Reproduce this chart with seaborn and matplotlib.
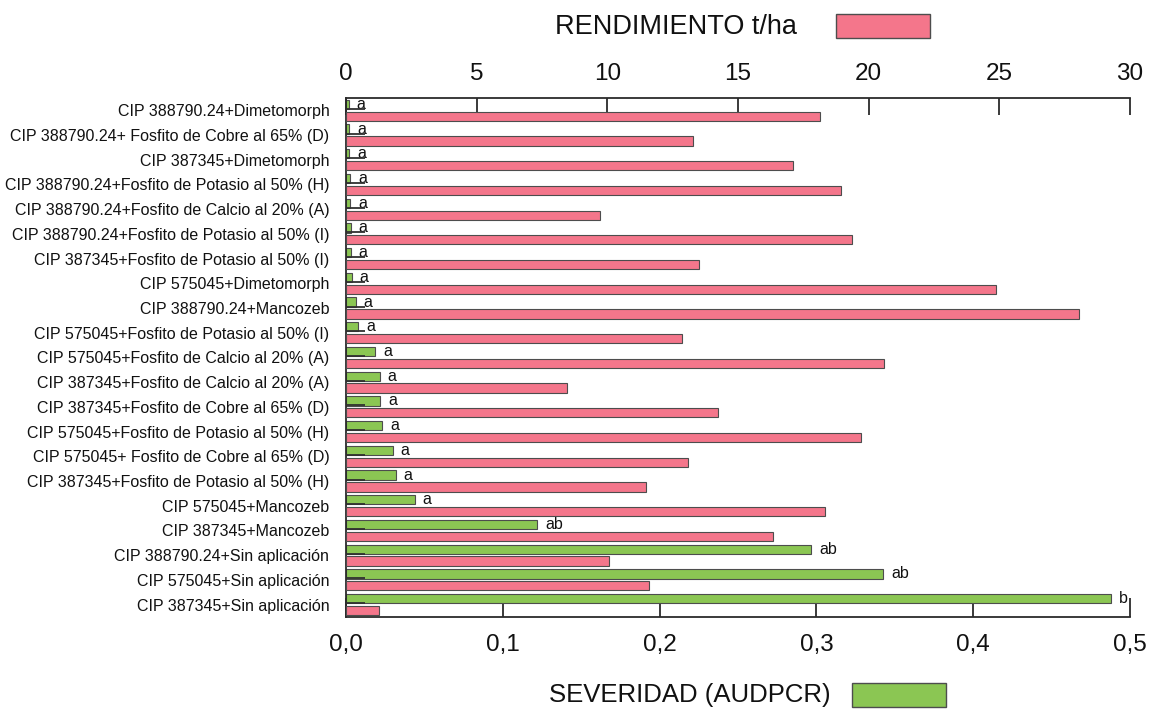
import numpy as np
import pandas as pd
import matplotlib
matplotlib.use("Agg")
import matplotlib.pyplot as plt
import seaborn as sns
from matplotlib.ticker import FuncFormatter, MultipleLocator
from matplotlib.patches import Rectangle

# Treatments, top to bottom
tratamientos = [
    "CIP 388790.24+Dimetomorph",
    "CIP 388790.24+ Fosfito de Cobre al 65% (D)",
    "CIP 387345+Dimetomorph",
    "CIP 388790.24+Fosfito de Potasio al 50% (H)",
    "CIP 388790.24+Fosfito de Calcio al 20% (A)",
    "CIP 388790.24+Fosfito de Potasio al 50% (I)",
    "CIP 387345+Fosfito de Potasio al 50% (I)",
    "CIP 575045+Dimetomorph",
    "CIP 388790.24+Mancozeb",
    "CIP 575045+Fosfito de Potasio al 50% (I)",
    "CIP 575045+Fosfito de Calcio al 20% (A)",
    "CIP 387345+Fosfito de Calcio al 20% (A)",
    "CIP 387345+Fosfito de Cobre al 65% (D)",
    "CIP 575045+Fosfito de Potasio al 50% (H)",
    "CIP 575045+ Fosfito de Cobre al 65% (D)",
    "CIP 387345+Fosfito de Potasio al 50% (H)",
    "CIP 575045+Mancozeb",
    "CIP 387345+Mancozeb",
    "CIP 388790.24+Sin aplicación",
    "CIP 575045+Sin aplicación",
    "CIP 387345+Sin aplicación",
]

# Disease severity (AUDPCR)
severidad = [0.0017, 0.0020, 0.0020, 0.0025, 0.0025, 0.0030, 0.0030, 0.0035,
             0.0062, 0.0077, 0.0185, 0.0215, 0.0217, 0.0232, 0.0298, 0.0317,
             0.0438, 0.1220, 0.2966, 0.3425, 0.4880]

# Yield (t/ha)
rendimiento = [18.14, 13.29, 17.12, 18.94, 9.70, 19.35, 13.52, 24.86,
               28.04, 12.85, 20.60, 8.47, 14.22, 19.71, 13.10, 11.48,
               18.33, 16.34, 10.07, 11.61, 1.27]

# Mean separation letters for severity
letras = ["a"] * 17 + ["ab", "ab", "ab", "b"]

# Short reference whisker drawn at the base of each severity bar
bigote = [0.012] * len(tratamientos)

VERDE = "#8BC653"
ROSA = "#F4768B"
BORDE = "#4d4d4d"
EJE = "#2b2b2b"

sns.set_theme(style="white")
plt.rcParams["font.family"] = ["Liberation Sans", "DejaVu Sans"]
ANGOSTA = ["Liberation Sans Narrow", "Liberation Sans", "DejaVu Sans"]

n = len(tratamientos)
largo = pd.concat([
    pd.DataFrame({"tratamiento": tratamientos, "serie": "sev",
                  "sev": severidad, "rend": np.nan}),
    pd.DataFrame({"tratamiento": tratamientos, "serie": "rend",
                  "sev": np.nan, "rend": rendimiento}),
], ignore_index=True)

fig = plt.figure(figsize=(11.5, 7.09), dpi=100)
ax = fig.add_axes([0.3009, 0.1298, 0.6817, 0.7320])
ax2 = ax.twiny()

paleta = {"sev": VERDE, "rend": ROSA}
comunes = dict(y="tratamiento", hue="serie", hue_order=["sev", "rend"],
               order=tratamientos, palette=paleta, saturation=1,
               width=0.96, gap=0.22, errorbar=None, legend=False, orient="h",
               edgecolor=BORDE, linewidth=0.8)

sns.barplot(data=largo, x="sev", ax=ax, **comunes)
sns.barplot(data=largo, x="rend", ax=ax2, **comunes)

ax.set_xlim(0, 0.5)
ax2.set_xlim(0, 30)
ax.set_ylim(n - 0.5, -0.5)

# whiskers at the base of each severity bar
ax.hlines([i - 0.06 for i in range(n)], 0, bigote, color="#303030",
          linewidth=1.3, zorder=4)

# letters next to the severity bars
for i, (v, l) in enumerate(zip(severidad, letras)):
    ax.annotate(l, xy=(v, i - 0.24), xytext=(8, 0), textcoords="offset pixels",
                ha="left", va="center", fontsize=11.5, color="#111111")

# axes styling
ax.set_xlabel("")
ax.set_ylabel("")
ax2.set_xlabel("")
ax2.set_ylabel("")
for s in ["top", "right"]:
    ax.spines[s].set_visible(False)
for s in ["left", "right", "bottom"]:
    ax2.spines[s].set_visible(False)
for sp in [ax.spines["left"], ax.spines["bottom"], ax2.spines["top"]]:
    sp.set_color(EJE)
    sp.set_linewidth(1.3)

ax.xaxis.set_major_locator(MultipleLocator(0.1))
ax.xaxis.set_major_formatter(FuncFormatter(lambda v, p: f"{v:.1f}".replace(".", ",")))
ax2.xaxis.set_major_locator(MultipleLocator(5))

ax.tick_params(axis="x", direction="in", length=14, width=1.3, color=EJE,
               pad=12, labelsize=17.5, labelcolor="#111111")
ax2.tick_params(axis="x", direction="in", length=12, width=1.3, color=EJE,
                pad=9, labelsize=17.5, labelcolor="#111111")
for lab in ax.get_xticklabels() + ax2.get_xticklabels():
    lab.set_family(ANGOSTA)

ax.tick_params(axis="y", length=0, pad=12, labelsize=11.5, labelcolor="#111111")
ax2.tick_params(axis="y", length=0)

# series titles with colour keys
fig.text(0.588, 0.962, "RENDIMIENTO t/ha", ha="center", va="center",
         fontsize=19.5, family=ANGOSTA, color="#111111")
fig.add_artist(Rectangle((836 / 1150, 1 - 38 / 709), 94 / 1150, 24 / 709,
                         transform=fig.transFigure, facecolor=ROSA,
                         edgecolor=BORDE, linewidth=1.0))
fig.text(0.6, 0.020, "SEVERIDAD (AUDPCR)", ha="center", va="center",
         fontsize=18.5, family=ANGOSTA, color="#111111")
fig.add_artist(Rectangle((852 / 1150, 1 - 707 / 709), 94 / 1150, 24 / 709,
                         transform=fig.transFigure, facecolor=VERDE,
                         edgecolor=BORDE, linewidth=1.0))

fig.savefig("out.png", dpi=100)
